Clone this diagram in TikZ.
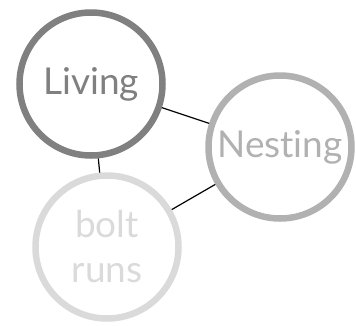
\documentclass[tikz,border=0pt]{standalone}
\usepackage{fontspec}
\setmainfont{Lato}[Ligatures={NoCommon,NoRare}]
\usepackage{xcolor}
\usetikzlibrary{positioning}
\definecolor{ringdark}{HTML}{808080}
\definecolor{ringmid}{HTML}{B0B1B0}
\definecolor{ringlight}{HTML}{DADADA}
\begin{document}
\begin{tikzpicture}
                    [
                    x=1pt, y=-1pt,
                    ring/.style={shape = circle, draw, line width = 6.5pt, minimum size = 143pt, inner sep=0pt, align = center, font=\fontsize{37}{45}\selectfont},
                    link/.style={draw=black, line width = 1.2pt},
                    ]
                    \useasboundingbox (0,0) rectangle (356,325);
                    %
                    \node[ring, draw=ringdark, text=ringdark] (living) at (91,84) {Living};
                    \node[ring, draw=ringmid, text=ringmid] (nesting) at (280,147) {Nesting};
                    \node[ring, draw=ringlight, text=ringlight] (boltruns) at (107,247) {bolt\\runs};
                    %
                    \path[link]
                        (living) edge (nesting)
                        (living) edge (boltruns)
                        (nesting) edge (boltruns)
                    ;
                \end{tikzpicture}
\end{document}
